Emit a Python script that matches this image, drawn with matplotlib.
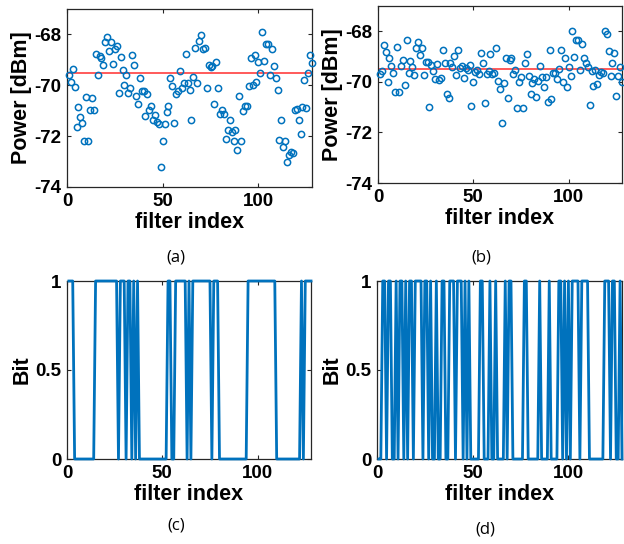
import matplotlib
matplotlib.use("Agg")
import matplotlib.pyplot as plt
import numpy as np

# ---------------- data ----------------
power_a = [-69.59, -69.89, -69.34, -70.08, -71.64, -70.86, -71.25, -71.49, -72.20, -70.47,
           -72.20, -70.99, -70.51, -70.99, -68.76, -69.59, -68.85, -68.91, -69.21, -68.29,
           -68.09, -68.65, -68.29, -69.17, -68.56, -68.47, -70.31, -68.87, -69.38, -69.98,
           -69.61, -70.31, -70.11, -68.81, -69.20, -70.43, -70.73, -69.70, -70.22, -70.22,
           -71.19, -70.34, -70.99, -70.82, -71.38, -71.15, -71.46, -71.51, -73.20, -72.19,
           -71.51, -71.06, -70.83, -69.73, -70.02, -71.49, -70.34, -70.21, -69.42, -70.11,
           -69.92, -68.78, -69.92, -70.18, -71.35, -69.66, -68.52, -69.92, -68.26, -68.03,
           -68.58, -68.52, -70.12, -69.20, -69.30, -69.23, -70.73, -69.07, -70.12, -71.12,
           -70.96, -71.12, -72.13, -71.77, -71.35, -71.83, -72.18, -71.74, -72.55, -70.44,
           -72.21, -71.03, -70.81, -70.81, -70.03, -68.94, -69.98, -68.82, -69.86, -69.07,
           -69.51, -67.90, -69.04, -68.39, -68.39, -69.59, -68.58, -69.25, -69.72, -70.18,
           -72.17, -71.35, -72.42, -72.21, -73.02, -72.76, -72.61, -72.68, -70.99, -70.94,
           -71.38, -71.92, -70.86, -69.79, -70.89, -69.53, -68.81, -69.12]
mean_a = -69.5

power_b = [-69.69, -69.56, -68.55, -68.81, -70.01, -69.05, -69.36, -69.64, -70.39, -68.62,
           -70.40, -69.36, -69.14, -70.13, -68.35, -69.64, -69.18, -69.40, -69.71, -68.68,
           -68.42, -68.94, -68.68, -69.73, -69.21, -69.21, -71.00, -69.34, -69.57, -69.88,
           -69.30, -69.93, -69.86, -68.75, -69.27, -70.49, -70.65, -69.27, -69.40, -68.98,
           -69.71, -68.75, -69.47, -69.38, -69.86, -69.47, -69.54, -69.34, -70.94, -70.02,
           -69.61, -69.54, -69.69, -68.85, -69.27, -70.85, -69.69, -69.56, -68.88, -69.69,
           -69.64, -68.68, -69.97, -70.30, -71.61, -70.03, -69.04, -70.65, -69.14, -69.04,
           -69.67, -69.54, -71.04, -69.99, -69.82, -71.04, -69.27, -68.91, -69.77, -70.48,
           -70.03, -69.89, -70.59, -69.96, -69.36, -69.80, -70.22, -69.82, -70.78, -68.75,
           -70.69, -69.64, -69.64, -69.90, -69.50, -68.75, -70.01, -69.06, -70.20, -69.40,
           -69.77, -67.99, -69.01, -68.33, -68.33, -69.54, -68.49, -69.04, -69.25, -69.40,
           -70.91, -69.57, -70.15, -69.54, -70.10, -69.73, -69.60, -69.64, -67.99, -68.09,
           -68.77, -69.77, -69.27, -68.84, -70.56, -69.77, -69.40, -69.99]
mean_b = -69.5

bits_c = [1, 1, 1, 0, 0, 0, 0, 0, 0, 0, 0, 0, 0, 0, 1, 1, 1, 1, 1, 1,
          1, 1, 1, 1, 1, 1, 0, 1, 1, 1, 0, 1, 1, 0, 1, 0, 1, 0, 0, 0,
          0, 0, 0, 0, 0, 0, 0, 0, 0, 0, 0, 0, 1, 1, 0, 0, 1, 1, 1, 1,
          1, 1, 0, 1, 0, 1, 1, 1, 1, 1, 1, 1, 1, 1, 1, 0, 1, 1, 1, 0,
          0, 0, 0, 0, 0, 0, 0, 0, 0, 0, 0, 0, 0, 0, 1, 1, 1, 1, 1, 1,
          1, 1, 1, 1, 1, 1, 1, 1, 1, 0, 0, 0, 0, 0, 0, 0, 0, 0, 0, 0,
          0, 0, 1, 0, 1, 1, 1, 1]

bits_d = [0, 0, 1, 1, 0, 1, 1, 0, 0, 1, 0, 1, 1, 0, 1, 0, 1, 1, 0, 1,
          1, 1, 1, 0, 1, 1, 0, 1, 0, 0, 1, 0, 0, 1, 1, 0, 0, 1, 1, 1,
          0, 1, 1, 1, 0, 1, 0, 1, 0, 0, 0, 0, 0, 1, 1, 0, 0, 0, 1, 0,
          0, 1, 0, 0, 0, 0, 1, 0, 1, 1, 0, 0, 0, 0, 0, 0, 1, 1, 0, 0,
          0, 0, 0, 0, 1, 0, 0, 0, 0, 1, 0, 0, 0, 0, 1, 1, 0, 1, 0, 1,
          0, 1, 1, 1, 1, 0, 1, 1, 1, 1, 0, 0, 0, 0, 0, 0, 0, 0, 1, 1,
          1, 0, 1, 1, 0, 0, 1, 0]

index = np.arange(1, len(power_a) + 1)

xticks = [0, 50, 100]
yticks_power = [-74, -72, -70, -68]
yticks_bit = [0, 0.5, 1]
captions = ["(a)", "(b)", "(c)", "(d)"]

# ---------------- style ----------------
BLUE = "#0072BD"
RED = "#FF4D4D"
AX = "#262626"
W, H = 624, 544
plt.rcParams["font.family"] = ["Liberation Sans", "DejaVu Sans"]
plt.rcParams["axes.unicode_minus"] = False

fig = plt.figure(figsize=(W / 100, H / 100), dpi=100)


def add_ax(l, t, r, b):
    return fig.add_axes([l / W, 1 - b / H, (r - l) / W, (b - t) / H])


def style(ax, ylabel, yt):
    ax.set_xlim(0, 128)
    ax.set_xticks(xticks)
    ax.set_yticks(yt)
    ax.tick_params(direction="in", top=True, right=True, length=3, width=0.8,
                   color=AX, labelsize=13.5, pad=4)
    for lab in ax.get_xticklabels() + ax.get_yticklabels():
        lab.set_fontweight("bold")
    for s in ax.spines.values():
        s.set_color(AX)
        s.set_linewidth(0.9)
    ax.set_xlabel("filter index", fontsize=15.5, fontweight="bold", labelpad=2)
    ax.set_ylabel(ylabel, fontsize=15.5, fontweight="bold", labelpad=2)


panels = [
    (add_ax(67, 9, 312, 187), "power", power_a, mean_a),
    (add_ax(378, 6, 622, 183), "power", power_b, mean_b),
    (add_ax(67, 281, 311, 459), "bit", bits_c, None),
    (add_ax(377, 281, 622, 459), "bit", bits_d, None),
]

for ax, kind, vals, mean in panels:
    if kind == "power":
        ax.plot(index, vals, "o", mfc="none", mec=BLUE, ms=4.5, mew=1.1,
                clip_on=False, zorder=3)
        ax.axhline(mean, color=RED, lw=1.3, zorder=2)
        ax.set_ylim(-74, -67)
        style(ax, "Power [dBm]", yticks_power)
    else:
        ax.plot(index, vals, "-", color=BLUE, lw=2.0, clip_on=False, zorder=3)
        ax.set_ylim(0, 1)
        style(ax, "Bit", yticks_bit)
        ax.set_yticklabels(["0", "0.5", "1"])

caption_pos = [(176, 258), (481, 258), (176, 525), (485, 530)]
for cap, (x, y) in zip(captions, caption_pos):
    fig.text(x / W, 1 - y / H, cap, ha="center", va="center", fontsize=12,
             family=["Open Sans", "DejaVu Sans"])

fig.savefig("out.png", dpi=100)
